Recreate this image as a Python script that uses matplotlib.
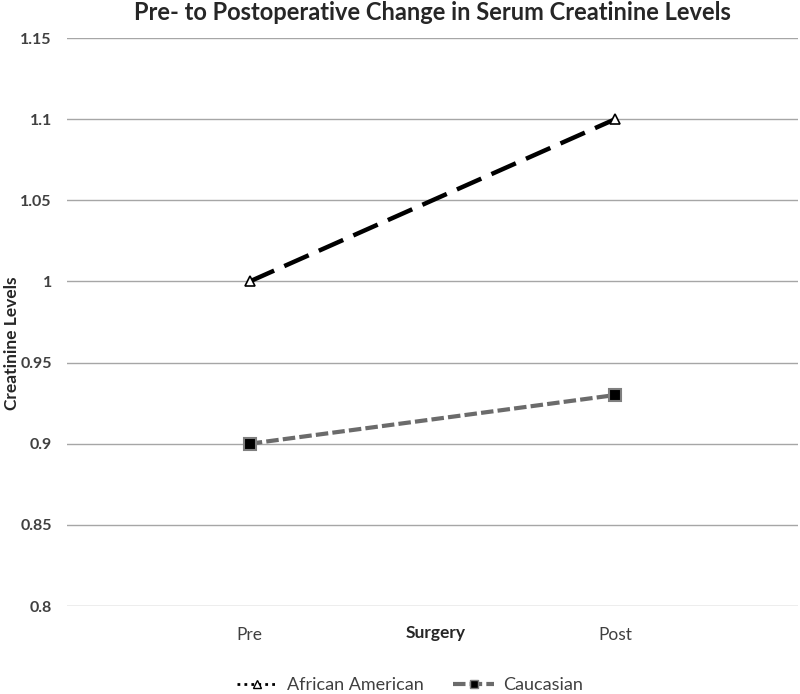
import matplotlib
matplotlib.use("Agg")
import matplotlib.pyplot as plt
from matplotlib.lines import Line2D

categories = ["Pre", "Post"]
african_american = [1.0, 1.1]
caucasian = [0.90, 0.93]
yticks = [0.8, 0.85, 0.9, 0.95, 1.0, 1.05, 1.1, 1.15]
yticklabels = ["0.8", "0.85", "0.9", "0.95", "1", "1.05", "1.1", "1.15"]

plt.rcParams['font.family'] = ['Lato', 'DejaVu Sans']

fig = plt.figure(figsize=(8, 6.94), dpi=100)
ax = fig.add_axes([67/800, 1-606/694, (798-67)/800, (606-38)/694])

x = list(range(len(categories)))
ax.plot(x, african_american, color='black', lw=3.2, dashes=(6, 2.5),
        marker='^', markersize=7, markerfacecolor='white', markeredgecolor='black',
        markeredgewidth=1.2, zorder=3)
ax.plot(x, caucasian, color='#6b6b6b', lw=3.0, dashes=(3, 1),
        marker='s', markersize=8, markerfacecolor='black', markeredgecolor='#7f7f7f',
        markeredgewidth=1.5, zorder=3)

ax.set_xlim(-0.5, 1.5)
ax.set_ylim(0.8, 1.15)
ax.set_yticks(yticks)
ax.set_yticklabels(yticklabels, fontsize=11.5, fontweight='bold', color='#404040')
ax.set_xticks(x)
ax.set_xticklabels(categories, fontsize=12.5, color='#404040')
ax.tick_params(axis='both', length=0)
ax.tick_params(axis='x', pad=15)
ax.tick_params(axis='y', pad=11)
ax.grid(axis='y', color='#a6a6a6', lw=1)
ax.set_axisbelow(True)
for s in ax.spines.values():
    s.set_visible(False)

fig.text(436/800, 1-633/694, "Surgery", ha='center', va='center', fontsize=12.5,
         fontweight='bold', color='#262626')
fig.text(12/800, 1-343/694, "Creatinine Levels", ha='center', va='center', fontsize=12.5,
         fontweight='bold', color='#262626', rotation=90)
fig.text(432/800, 1-12/694, "Pre- to Postoperative Change in Serum Creatinine Levels",
         ha='center', va='center', fontsize=17, fontweight='bold', color='#262626')

handles = [
    Line2D([], [], color='black', lw=2, linestyle=(0, (1, 1.5)), marker='^', markersize=6,
           markerfacecolor='white', markeredgecolor='black'),
    Line2D([], [], color='#6b6b6b', lw=3, dashes=(3, 1), marker='s', markersize=6,
           markerfacecolor='black', markeredgecolor='#7f7f7f'),
]
fig.legend(handles, ["African American", "Caucasian"], loc='center',
           bbox_to_anchor=(410/800, 1-685/694), ncol=2, frameon=False, fontsize=13,
           handlelength=2.3, handletextpad=0.5, columnspacing=1.6, labelcolor='#404040')

fig.savefig("out.png", dpi=100)
